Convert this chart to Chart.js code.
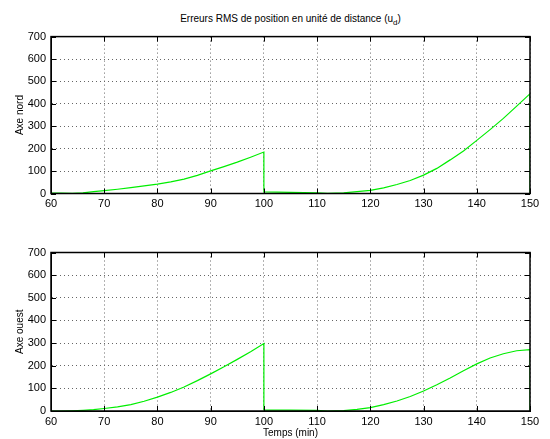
<!DOCTYPE html>
<html>
<head>
<meta charset="utf-8">
<script src="https://cdn.jsdelivr.net/npm/chart.js@4/dist/chart.umd.min.js"></script>
<style>
  body { margin: 0; background: #fff; }
  #page { position: relative; width: 550px; height: 439px; font-family: "Liberation Sans", Arial, sans-serif; }
  #titre { position: absolute; left: 51px; top: 13px; width: 479px; text-align: center; font-size: 10px; color: #000; }
  #titre sub { font-size: 8px; }
  .boite { position: absolute; left: 0; width: 550px; }
</style>
</head>
<body>
<div id="page">
  <div id="titre">Erreurs RMS de position en unité de distance (u<sub>d</sub>)</div>
  <div class="boite" style="top:25px;height:200px"><canvas id="nordChart"></canvas></div>
  <div class="boite" style="top:240px;height:199px"><canvas id="ouestChart"></canvas></div>
</div>
<script>
// Temps (min) - les points doublés à 100 et 150 donnent les sauts verticaux
var temps = [60, 62, 64, 66, 68, 70, 72.5, 75, 77.5, 80, 82.5, 85, 87.5, 90, 92.5, 95, 97.5, 100,
    100, 105, 110, 112, 115, 117.5, 120, 122.5, 125, 127.5, 130, 132.5, 135, 137.5, 140, 142.5, 145, 147.5, 150, 150];

// Erreurs RMS axe nord
var nord = [2, 2, 1, 3, 8, 13, 19, 26, 34, 42, 52, 64, 81, 101, 120, 140, 162, 185,
    7, 5, 3, 1, 3, 8, 14, 25, 40, 58, 82, 112, 150, 190, 237, 285, 335, 390, 445, 0];

// Erreurs RMS axe ouest
var ouest = [0, 0, 1, 3, 6, 11, 18, 28, 43, 61, 82, 106, 134, 164, 195, 228, 262, 298,
    4, 4, 3, 0, 2, 7, 15, 28, 44, 64, 88, 116, 146, 178, 208, 234, 253, 266, 271, 0];

var ticksX = [60, 70, 80, 90, 100, 110, 120, 130, 140, 150];
var ticksY = [0, 100, 200, 300, 400, 500, 600, 700];

Chart.defaults.font.family = '"Liberation Sans", Arial, sans-serif';
Chart.defaults.font.size = 11;
Chart.defaults.color = '#000';

// Cadre complet et petites graduations vers l'intérieur (style MATLAB)
var cadre = {
    id: 'cadre',
    afterDraw: function(chart) {
        var ctx = chart.ctx, a = chart.chartArea;
        var sx = chart.scales.x, sy = chart.scales.y;
        ctx.save();
        ctx.strokeStyle = '#000';
        ctx.lineWidth = 1;
        ctx.beginPath();
        ticksX.forEach(function(t) {
            var px = Math.round(sx.getPixelForValue(t)) + 0.5;
            ctx.moveTo(px, a.bottom); ctx.lineTo(px, a.bottom - 5);
            ctx.moveTo(px, a.top); ctx.lineTo(px, a.top + 5);
        });
        ticksY.forEach(function(t) {
            var py = Math.round(sy.getPixelForValue(t)) + 0.5;
            ctx.moveTo(a.left, py); ctx.lineTo(a.left + 5, py);
            ctx.moveTo(a.right, py); ctx.lineTo(a.right - 5, py);
        });
        ctx.stroke();
        ctx.lineWidth = 1.5;
        ctx.strokeRect(a.left, a.top, a.right - a.left, a.bottom - a.top);
        ctx.restore();
    }
};

function faireGraphique(id, valeurs, titreY, titreX, padTop, hautX) {
    var points = temps.map(function(t, i) { return { x: t, y: valeurs[i] }; });
    return new Chart(document.getElementById(id), {
        type: 'line',
        data: {
            datasets: [{
                data: points,
                borderColor: '#00ee00',
                borderWidth: 1.2,
                pointRadius: 0,
                tension: 0
            }]
        },
        options: {
            responsive: true,
            maintainAspectRatio: false,
            animation: false,
            layout: { padding: { top: padTop, right: 20, left: 0, bottom: 0 } },
            plugins: { legend: { display: false }, tooltip: { enabled: false } },
            scales: {
                x: {
                    type: 'linear',
                    min: 60, max: 150,
                    afterBuildTicks: function(s) { s.ticks = ticksX.map(function(v) { return { value: v }; }); },
                    afterFit: function(s) { s.height = hautX; },
                    grid: { color: '#666', drawTicks: false },
                    border: { color: '#000', dash: [1, 3] },
                    ticks: { padding: 4, maxRotation: 0 },
                    title: { display: !!titreX, text: titreX, font: { size: 10 }, padding: 0 }
                },
                y: {
                    min: 0, max: 700,
                    afterBuildTicks: function(s) { s.ticks = ticksY.map(function(v) { return { value: v }; }); },
                    afterFit: function(s) { s.width = 51; },
                    grid: { color: '#666', drawTicks: false },
                    border: { color: '#000', dash: [1, 3] },
                    ticks: { padding: 5 },
                    title: { display: true, text: titreY, font: { size: 10 }, padding: { top: 14, bottom: 0 } }
                }
            }
        },
        plugins: [cadre]
    });
}

faireGraphique('nordChart', nord, 'Axe nord', '', 10, 31.5);
faireGraphique('ouestChart', ouest, 'Axe ouest', 'Temps (min)', 12.5, 28);
</script>
</body>
</html>
